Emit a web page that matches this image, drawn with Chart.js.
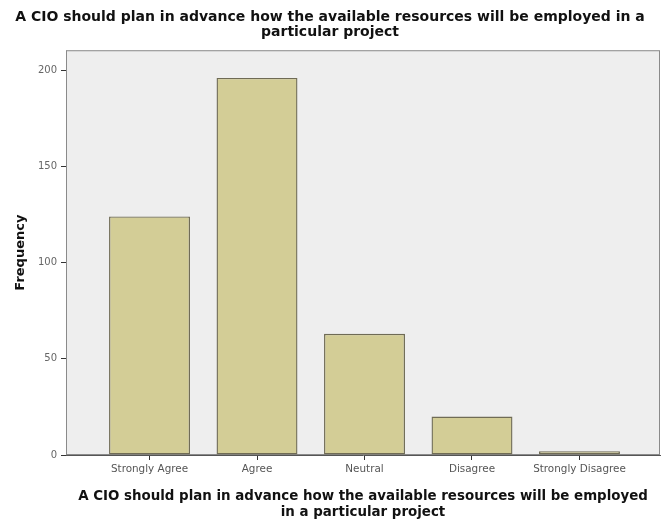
<!DOCTYPE html>
<html>
<head>
<meta charset="utf-8">
<script src="https://cdn.jsdelivr.net/npm/chart.js@4/dist/chart.umd.min.js"></script>
<style>
  html, body { margin: 0; padding: 0; background: #fff; }
  #wrap { width: 662px; height: 522px; }
</style>
</head>
<body>
<div id="wrap"><canvas id="chart1"></canvas></div>
<script>
// answers and counts
var categories = ["Strongly Agree", "Agree", "Neutral", "Disagree", "Strongly Disagree"];
var counts = [124, 196, 63, 20, 2];
var yTicks = [0, 50, 100, 150, 200];
var titleLines = ["A CIO should plan in advance how the available resources will be employed in a", "particular project"];
var xTitleLines = ["A CIO should plan in advance how the available resources will be employed", "in a particular project"];

var fontFam = "DejaVu Sans, Verdana, sans-serif";

// grey plot box behind the bars
var plotBox = {
    id: 'plotBox',
    beforeDatasetsDraw: function(chart) {
        var a = chart.chartArea, ctx = chart.ctx;
        ctx.save();
        ctx.fillStyle = '#eeeeee';
        ctx.fillRect(a.left, a.top, a.right - a.left, a.bottom - a.top);
        ctx.strokeStyle = '#8a8a8a';
        ctx.lineWidth = 1;
        ctx.strokeRect(a.left + 0.5, a.top + 0.5, a.right - a.left - 1, a.bottom - a.top - 1);
        ctx.restore();
    }
};

new Chart("chart1", {
    type: "bar",
    data: {
        datasets: [{
            data: counts.map(function(v, i) { return {x: i, y: v}; }),
            backgroundColor: "#d3cd96",
            borderColor: "#6f6b55",
            borderWidth: 1.4,
            borderSkipped: false,
            categoryPercentage: 1,
            barPercentage: 0.753
        }]
    },
    plugins: [plotBox],
    options: {
        responsive: true,
        maintainAspectRatio: false,
        animation: false,
        layout: {padding: {left: 0, right: 2, top: 0, bottom: 0}},
        plugins: {
            legend: {display: false},
            tooltip: {enabled: false},
            title: {
                display: true,
                text: titleLines,
                color: "#111",
                font: {family: fontFam, size: 14, weight: "bold", lineHeight: 1.08},
                padding: {top: 10, bottom: 10}
            }
        },
        scales: {
            x: {
                type: "linear",
                offset: false,
                min: -0.777,
                max: 4.749,
                afterBuildTicks: function(axis) {
                    axis.ticks = categories.map(function(c, i) { return {value: i}; });
                },
                afterFit: function(axis) { axis.height = 67; },
                grid: {display: true, offset: false, drawOnChartArea: false, drawTicks: true, tickLength: 5, color: "#333", lineWidth: 1},
                border: {display: true, color: "#555", width: 1},
                ticks: {
                    autoSkip: false,
                    maxRotation: 0,
                    padding: 3,
                    color: "#555",
                    font: {family: fontFam, size: 10.4},
                    callback: function(v) { return categories[v]; }
                },
                title: {
                    display: true,
                    text: xTitleLines,
                    color: "#111",
                    font: {family: fontFam, size: 13.4, weight: "bold", lineHeight: 1.2},
                    padding: {top: 4, bottom: 1}
                }
            },
            y: {
                min: 0,
                max: 210.4,
                afterBuildTicks: function(axis) {
                    axis.ticks = yTicks.map(function(v) { return {value: v}; });
                },
                afterFit: function(axis) { axis.width = 66; },
                grid: {display: true, drawOnChartArea: false, drawTicks: true, tickLength: 5, color: "#333", lineWidth: 1},
                border: {display: true, color: "#555", width: 1},
                ticks: {
                    padding: 4,
                    color: "#666",
                    font: {family: fontFam, size: 10}
                },
                title: {
                    display: true,
                    text: "Frequency",
                    color: "#111",
                    font: {family: fontFam, size: 13, weight: "bold"},
                    padding: {top: 13, bottom: 4}
                }
            }
        }
    }
});
</script>
</body>
</html>
